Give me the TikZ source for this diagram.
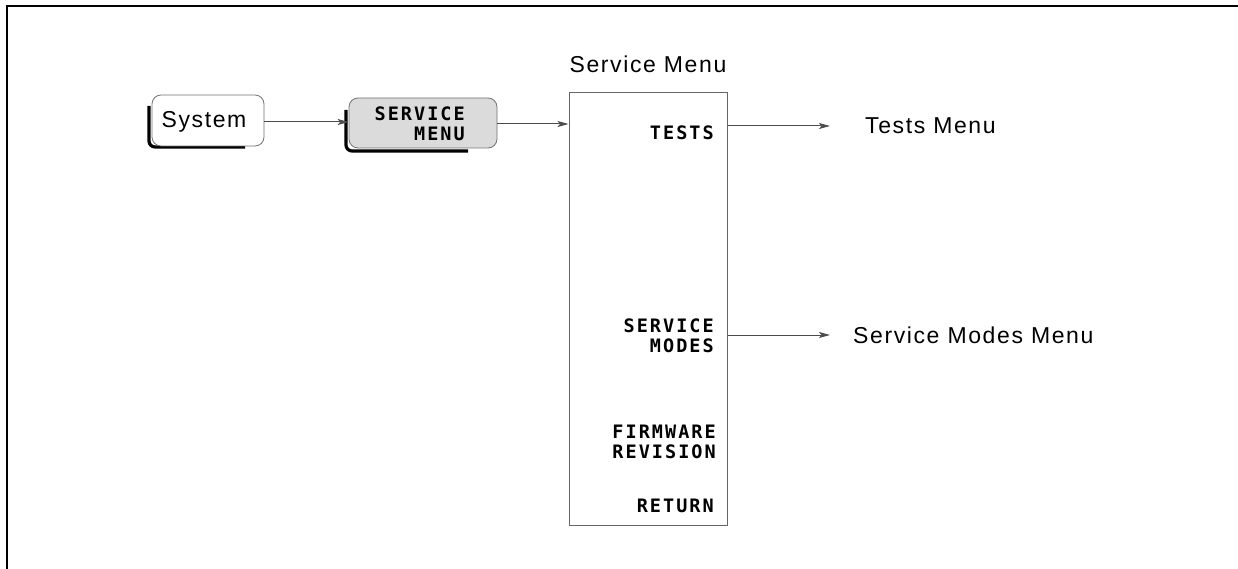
\documentclass[tikz,border=0pt]{standalone}
\usepackage{fontspec}
\usetikzlibrary{arrows.meta,calc}
\newfontfamily\keyfont{DejaVu Sans Mono}[LetterSpace=11]
\newfontfamily\lblfont{Liberation Sans}[LetterSpace=7]
\tikzset{
  conn/.style={draw=black!70, line width=1pt, -{Stealth[length=11pt,width=6pt,inset=2.5pt]}},
  keybox/.style={draw=black!55, line width=0.8pt, rounded corners=9pt, fill=white, inner sep=0pt},
  keyshadow/.style={draw=black, line width=3.2pt, rounded corners=6pt},
  keytext/.style={font=\keyfont\bfseries\fontsize{18.5}{20.5}\selectfont, align=right, inner sep=0pt},
  lbl/.style={font=\lblfont\fontsize{23}{25}\selectfont, inner sep=0pt},
  menubox/.style={draw=black!60, line width=1pt, inner sep=0pt}
}
\begin{document}
\begin{tikzpicture}[x=1pt,y=-1pt]
\useasboundingbox (0,0) rectangle (1238,569);
\begin{scope}
\clip (0,0) rectangle (1238,569);
\draw[line width=2.2pt] (7,600) -- (7,6) -- (1300,6);
\end{scope}

% System key
\draw[keyshadow] (149,106) -- (149,147) -- (245,147);
\node[keybox, minimum width=112pt, minimum height=51pt] (sys) at (208,120.5) {};
\node[lbl] (systxt) at (204,122) {System};

% SERVICE MENU key
\draw[keyshadow] (346,110) -- (346,151) -- (468,151);
\node[keybox, fill=black!14, minimum width=148pt, minimum height=50pt] (svc) at (423,123) {};
\node[keytext, anchor=east] (svctxt) at (465,124) {SERVICE\\MENU};

% Service menu box
\node[menubox, minimum width=158pt, minimum height=432pt] (menu) at (648,309) {};
\node[lbl] (title) at (648,64) {Service Menu};
\node[keytext, anchor=east] (tests) at (714,133) {TESTS};
\node[keytext, anchor=east] (svmodes) at (714,336) {SERVICE\\MODES};
\node[keytext, anchor=east] (fw) at (716,442) {FIRMWARE\\REVISION};
\node[keytext, anchor=east] (ret) at (714,506) {RETURN};

% destination labels
\node[lbl, anchor=west] (testsM) at (865,126) {Tests Menu};
\node[lbl, anchor=west] (modesM) at (853,335) {Service Modes Menu};

% connectors
\draw[conn] (sys.east |- 0,122) -- (svc.west |- 0,122);
\draw[conn] (svc.east |- 0,124) -- (menu.west |- 0,124);
\draw[conn, shorten >=35pt] (menu.east |- testsM.west) -- (testsM.west);
\draw[conn, shorten >=23pt] (menu.east |- modesM.west) -- (modesM.west);
\end{tikzpicture}
\end{document}
